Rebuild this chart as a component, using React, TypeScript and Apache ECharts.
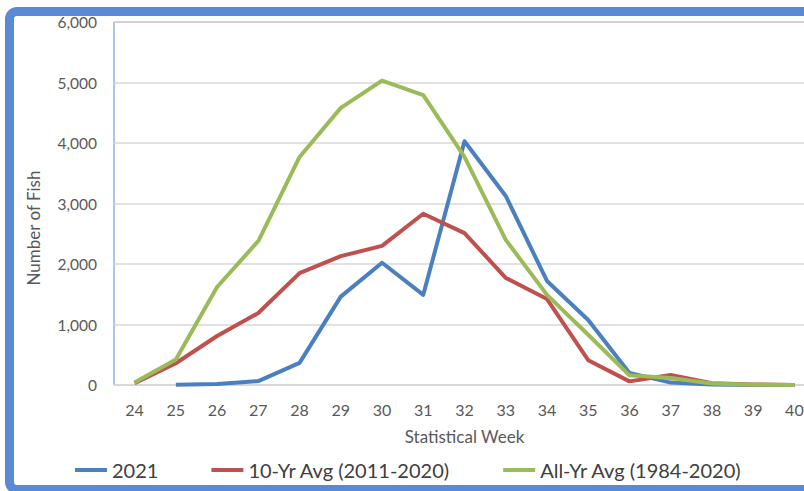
import React, { useEffect, useRef } from "react";
import * as echarts from "echarts";

const weeks = ["24","25","26","27","28","29","30","31","32","33","34","35","36","37","38","39","40"];
const y2021 = [null, 5, 15, 65, 365, 1460, 2020, 1490, 4030, 3125, 1720, 1075, 200, 40, 10, 2, 0];
const avg10 = [30, 360, 810, 1190, 1850, 2130, 2300, 2830, 2510, 1770, 1420, 410, 60, 165, 30, 10, 0];
const avgAll = [40, 420, 1620, 2380, 3770, 4580, 5030, 4790, 3770, 2400, 1490, 830, 160, 115, 25, 5, 0];
const seriesNames = ["2021", "10-Yr Avg (2011-2020)", "All-Yr Avg (1984-2020)"];
const colors = ["#4a7fc0", "#c0504d", "#9bbb59"];

const FONT = "Lato, 'Open Sans', sans-serif";

export default function App() {
  const ref = useRef<HTMLDivElement>(null);
  useEffect(() => {
    if (!ref.current) return;
    const chart = echarts.init(ref.current, undefined, { renderer: "svg" });
    const data = [y2021, avg10, avgAll];
    chart.setOption({
      animation: false,
      textStyle: { fontFamily: FONT },
      grid: {
        left: 114,
        top: 22,
        width: 701,
        height: 363,
        show: true,
        borderColor: "#5a8ad4",
        borderWidth: 1,
        backgroundColor: "transparent",
        outerBoundsMode: "none",
        containLabel: false,
      },
      legend: {
        left: 70,
        top: 455,
        icon: "rect",
        itemWidth: 32,
        itemHeight: 4,
        itemGap: 53,
        textStyle: { fontFamily: FONT, fontSize: 20, color: "#404040" },
        data: seriesNames,
      },
      xAxis: {
        type: "category",
        data: weeks,
        boundaryGap: true,
        axisLine: { show: true, lineStyle: { color: "#d9d9d9", width: 1.5 } },
        axisTick: { show: false },
        axisLabel: { color: "#595959", fontSize: 16, margin: 16, fontFamily: FONT },
        name: "Statistical Week",
        nameLocation: "middle",
        nameGap: 43,
        nameTextStyle: { color: "#595959", fontSize: 17, fontFamily: FONT },
      },
      yAxis: {
        type: "value",
        min: 0,
        max: 6000,
        interval: 1000,
        axisLine: { show: false },
        axisTick: { show: false },
        splitLine: { lineStyle: { color: "#d9d9d9", width: 1.5 } },
        axisLabel: {
          color: "#595959",
          fontSize: 15.5,
          margin: 17,
          fontFamily: FONT,
          formatter: (v: number) => v.toLocaleString("en-US"),
        },
      },
      graphic: [
        {
          type: "text",
          x: 33,
          y: 228,
          rotation: Math.PI / 2,
          style: {
            text: "Number of Fish",
            fill: "#595959",
            fontSize: 17,
            fontFamily: FONT,
            align: "center",
            verticalAlign: "middle",
          },
        },
      ],
      series: seriesNames.map((name, i) => ({
        name,
        type: "line",
        data: data[i],
        symbol: "none",
        connectNulls: false,
        lineStyle: { color: colors[i], width: 4, join: "round" },
        itemStyle: { color: colors[i] },
      })),
    });
    return () => chart.dispose();
  }, []);

  return (
    <div style={{ position: "absolute", left: 0, top: 0, width: 804, height: 491, overflow: "hidden", background: "#fff" }}>
      <div
        style={{
          position: "absolute",
          left: 5,
          top: 7,
          width: 830,
          height: 469,
          border: "9px solid #5a8ad6",
          borderRadius: 12,
          boxSizing: "content-box",
        }}
      />
      <div ref={ref} style={{ position: "absolute", left: 0, top: 0, width: 840, height: 491 }} />
    </div>
  );
}
